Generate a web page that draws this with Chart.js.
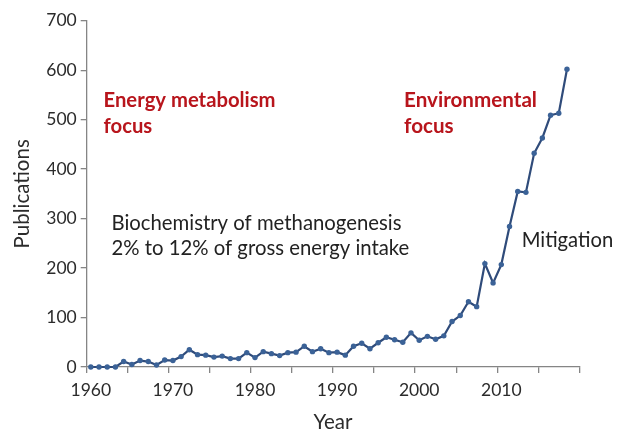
<!DOCTYPE html>
<html>
<head>
<meta charset="utf-8">
<script src="https://cdn.jsdelivr.net/npm/chart.js@4.4.1/dist/chart.umd.min.js"></script>
<style>
  html, body { margin: 0; padding: 0; background: #ffffff; }
  #wrap { width: 626px; height: 432px; }
</style>
</head>
<body>
<div id="wrap"><canvas id="c" width="626" height="432"></canvas></div>
<script>
// ---- data ----
const years = [];
for (let y = 1960; y <= 2019; y++) years.push(String(y));
const publications = [
  0, 0, 0, 0, 11, 5, 13, 11, 4, 14,
  13, 21, 35, 25, 24, 20, 22, 17, 17, 29,
  19, 31, 27, 23, 29, 30, 42, 31, 37, 29,
  30, 24, 42, 48, 37, 49, 60, 55, 50, 69,
  54, 62, 56, 63, 92, 104, 132, 122, 209, 170,
  207, 284, 355, 353, 432, 463, 509, 513, 602
];
const yTicks = [0, 100, 200, 300, 400, 500, 600, 700];

// annotation texts (anchored in data coordinates: year, value)
const annotTexts = [
  ["Energy metabolism", "focus"],
  ["Environmental", "focus"],
  ["Biochemistry of methanogenesis", "2% to 12% of gross energy intake"],
  ["Mitigation"]
];
const annotYears = [1961.55, 1998.15, 1962.52, 2012.48];
const annotValues = [[539.5, 485.6], [539.5, 485.6], [291, 240.5], [256]];
const annotWidths = [172, 133, 290, 91.6];
const annotBold = [true, true, false, false];
const annotColors = ['#b8151c', '#b8151c', '#222222', '#222222'];

const FONT = "Lato, 'Open Sans', sans-serif";
const AXIS = '#858585';
const TXT = '#2b2b2b';

const annotPlugin = {
  id: 'annot',
  afterDatasetsDraw(chart) {
    const ctx = chart.ctx;
    const xs = chart.scales.x, ys = chart.scales.y;
    ctx.save();
    ctx.textBaseline = 'middle';
    ctx.textAlign = 'left';
    annotTexts.forEach((lines, i) => {
      const weight = annotBold[i] ? 'bold ' : '';
      ctx.font = weight + '100px ' + FONT;
      const w = ctx.measureText(lines[0]).width;
      const size = 100 * annotWidths[i] / w;
      ctx.font = weight + size.toFixed(2) + 'px ' + FONT;
      ctx.fillStyle = annotColors[i];
      const px = xs.getPixelForValue(annotYears[i] - 1960);
      lines.forEach((t, j) => {
        ctx.fillText(t, px, ys.getPixelForValue(annotValues[i][j]));
      });
    });
    ctx.restore();
  }
};

const tickColor = (c) => (c.index === undefined || c.index % 5 === 0) ? AXIS : 'rgba(0,0,0,0)';

new Chart(document.getElementById('c'), {
  type: 'line',
  data: {
    labels: years,
    datasets: [{
      data: publications,
      borderColor: '#2f4b7a',
      borderWidth: 2.2,
      pointRadius: 2.7,
      pointBackgroundColor: '#3b6297',
      pointBorderWidth: 0,
      tension: 0,
      clip: false
    }]
  },
  options: {
    responsive: false,
    animation: false,
    events: [],
    layout: { padding: { top: 20.7, right: 46.7, left: 0, bottom: 0 } },
    plugins: { legend: { display: false }, tooltip: { enabled: false } },
    scales: {
      x: {
        type: 'category',
        offset: true,
        afterFit: (s) => { s.height = 65; },
        border: { display: true, color: AXIS, width: 1.3 },
        grid: {
          offset: true,
          drawOnChartArea: false,
          drawTicks: true,
          tickLength: 6,
          color: tickColor,
          lineWidth: 1.3
        },
        ticks: {
          autoSkip: false,
          maxRotation: 0,
          minRotation: 0,
          padding: 7,
          color: TXT,
          font: { family: FONT, size: 17.5 },
          callback: (v, i) => (i % 10 === 0 ? years[i] : '')
        },
        title: {
          display: true,
          text: 'Year',
          color: TXT,
          font: { family: FONT, size: 20.5 },
          padding: { top: 0, bottom: -3 }
        }
      },
      y: {
        min: 0,
        max: 700,
        afterFit: (s) => { s.width = 86.7; },
        afterBuildTicks: (s) => { s.ticks = yTicks.map(v => ({ value: v })); },
        border: { display: true, color: AXIS, width: 1.3 },
        grid: {
          drawOnChartArea: false,
          drawTicks: true,
          tickLength: 6,
          color: AXIS,
          lineWidth: 1.3
        },
        ticks: {
          padding: 4,
          color: TXT,
          font: { family: FONT, size: 17.5 }
        },
        title: {
          display: true,
          text: 'Publications',
          color: TXT,
          font: { family: FONT, size: 20.5 },
          padding: { top: 9.7, bottom: 0 }
        }
      }
    }
  },
  plugins: [annotPlugin]
});
</script>
</body>
</html>
